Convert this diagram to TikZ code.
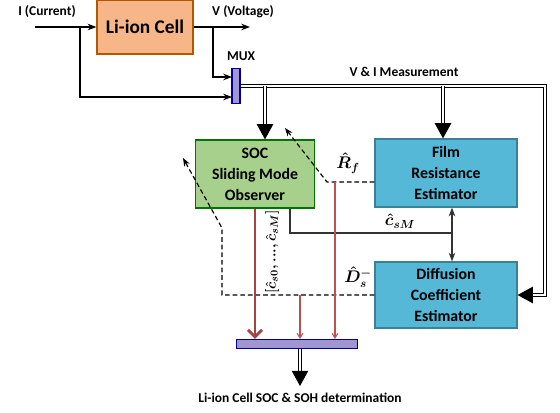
\documentclass[tikz,border=0pt]{standalone}
\usepackage{amsmath,amssymb,bm}
\usepackage{fontspec}
\setmainfont{Carlito}
\usetikzlibrary{arrows.meta,positioning,calc}
\definecolor{cellorange}{RGB}{247,182,135}
\definecolor{socgreen}{RGB}{168,208,141}
\definecolor{estblue}{RGB}{84,184,214}
\definecolor{muxpurple}{RGB}{160,150,210}
\definecolor{wirered}{RGB}{192,80,77}

\begin{document}
\begin{tikzpicture}[
    x=0.03cm, y=-0.03cm,
    box/.style={rectangle, draw=estblue!70!black, fill=estblue, minimum width=4.26cm, minimum height=2.04cm, align=center, font=\fontsize{13.5}{18}\selectfont\bfseries},
    mux/.style={rectangle, draw=blue!60!black, fill=muxpurple, inner sep=0pt},
    lbl/.style={font=\fontsize{11.5}{13}\selectfont\bfseries},
    mlbl/.style={inner sep=1pt, font=\boldmath\fontsize{14}{16}\selectfont},
    bus/.style={draw=black, line width=1pt, double=white, double distance=2pt},
    busarrow/.style={bus, -{Triangle[width=14pt,length=13pt]}},
    fb/.style={dash pattern=on 4pt off 2.5pt, line width=1pt, -{Stealth[length=7pt]}},
    redline/.style={draw=wirered!85!black, line width=2.4pt, -{Straight Barb[length=6pt,width=12pt]}},
    thinred/.style={draw=wirered, line width=0.9pt, -{Straight Barb[length=4pt,width=5pt]}},
    >=Stealth, line width=1pt
]
    \useasboundingbox (0,0) rectangle (560,412);

    \node[box, fill=cellorange, draw=orange!70!black, minimum width=2.88cm, minimum height=1.62cm, font=\fontsize{16.5}{18}\selectfont\bfseries] (cell) at (145,27) {Li-ion Cell};
    \node[mux, minimum width=0.24cm, minimum height=1.05cm] (mux) at (236,86) {};
    \node[box, fill=socgreen, draw=green!45!black, minimum width=3.57cm] (soc) at (255,174) {SOC\\Sliding Mode\\Observer};
    \node[box] (film) at (446,173) {Film\\Resistance\\Estimator};
    \node[box, minimum height=1.98cm] (diff) at (446,295) {Diffusion\\Coefficient\\Estimator};
    \node[mux, minimum width=3.63cm, minimum height=0.27cm] (bar) at (297,344) {};

    \node[lbl] (ilbl) at (47,12) {I (Current)};
    \node[lbl] (vlbl) at (243,12) {V (Voltage)};
    \node[lbl] (muxlbl) at (241,56) {MUX};
    \node[lbl] (meas) at (404,72) {V \& I Measurement};
    \node[lbl] (final) at (300,398) {Li-ion Cell SOC \& SOH determination};

    % current and voltage into the mux
    \coordinate (iin) at (35,27);
    \coordinate (ibr) at (80,27);
    \coordinate (vout) at (250,27);
    \coordinate (vbr) at (213,27);
    \coordinate (mi) at (232,97);
    \coordinate (mv) at (232,77);
    \draw[->] (iin) -- (cell);
    \draw[->] (ibr) |- (mi);
    \draw[->] (cell) -- (vout);
    \draw[->] (vbr) |- (mv);

    % measurement bus
    \coordinate (bd) at (545,295);
    \coordinate (d1) at (265,86);
    \coordinate (d2) at (443,86);
    \draw[busarrow] (mux.east) -| (bd) -- (diff.east);
    \draw[busarrow] (d1) -- (d1 |- soc.north);
    \draw[busarrow] (d2) -- (d2 |- film.north);

    % feedback of the estimates
    \coordinate (rfk) at (327,182);
    \coordinate (rft) at (285,128);
    \coordinate (rr) at (335,182);
    \draw[fb] (film.west |- rfk) -- (rfk) -- (rft);
    \node[mlbl] (rflbl) at (348,163) {$\hat{R}_f$};

    \coordinate (dk1) at (222,295);
    \coordinate (dk2) at (222,228);
    \coordinate (dt) at (183,158);
    \coordinate (dr) at (300,295);
    \draw[fb] (diff.west) -- (dk1) -- (dk2) -- (dt);
    \node[mlbl] (dslbl) at (358,277) {$\hat{D}_s^-$};

    \coordinate (cs) at (290,233);
    \coordinate (cj) at (452,233);
    \draw[black!80] (soc.south -| cs) |- (cj);
    \draw[black!80, <->] (film.south -| cj) -- (diff.north -| cj);
    \node[mlbl] (cslbl) at (400,221) {$\hat{c}_{sM}$};

    % outputs to the result bar
    \draw[redline] (soc.south) -- (soc.south |- bar.north);
    \draw[thinred] (rr) -- (rr |- bar.north);
    \draw[thinred] (dr) -- (dr |- bar.north);
    \node[mlbl, rotate=90, font=\boldmath\fontsize{13}{15}\selectfont] (clbl) at (272,252) {$[\hat{c}_{s0},...,\hat{c}_{sM}]$};

    \coordinate (res) at (300,386);
    \draw[busarrow] (bar.south -| res) -- (res);
\end{tikzpicture}
\end{document}
